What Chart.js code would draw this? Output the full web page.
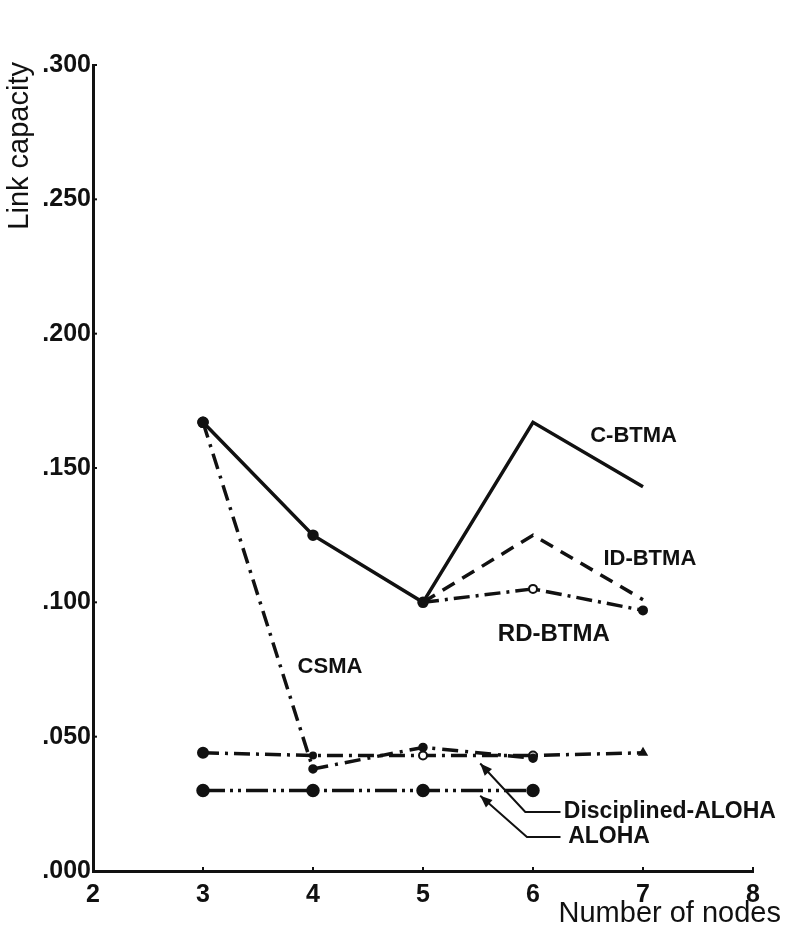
<!DOCTYPE html>
<html>
<head>
<meta charset="utf-8">
<script src="https://cdn.jsdelivr.net/npm/chart.js@4.4.1/dist/chart.umd.min.js"></script>
<style>
  html, body { margin: 0; padding: 0; background: #ffffff; }
  #wrap { width: 785px; height: 936px; position: relative; }
</style>
</head>
<body>
<div id="wrap"><canvas id="c" width="785" height="936"></canvas></div>
<script>
// ---- data ----
const nodeCounts = [3, 4, 5, 6, 7];
const cBtma = [0.167, 0.125, 0.100, 0.167, 0.143];
const idBtma = [null, null, 0.100, 0.125, 0.101];
const rdBtma = [null, null, 0.100, 0.105, 0.097];
const csma = [0.167, 0.038, 0.046, 0.042, null];
const disciplinedAloha = [0.044, 0.043, 0.043, 0.043, 0.044];
const aloha = [0.030, 0.030, 0.030, 0.030, null];
const yTicks = [0, 0.05, 0.10, 0.15, 0.20, 0.25, 0.30];
const xTicks = [2, 3, 4, 5, 6, 7, 8];
const yTickLabels = ['.000', '.050', '.100', '.150', '.200', '.250', '.300'];
const xTickLabels = ['2', '3', '4', '5', '6', '7', '8'];
const seriesNames = ['C-BTMA', 'ID-BTMA', 'RD-BTMA', 'CSMA', 'Disciplined-ALOHA', 'ALOHA'];
const xTitle = 'Number of nodes';
const yTitle = 'Link capacity';

const pts = arr => nodeCounts.map((x, i) => ({ x: x, y: arr[i] }));
const INK = '#111111';
const FONT = '"Liberation Sans", Arial, Helvetica, sans-serif';

const annotate = {
  id: 'annotate',
  afterDraw(chart) {
    const ctx = chart.ctx;
    const xs = chart.scales.x, ys = chart.scales.y;
    const X = v => xs.getPixelForValue(v), Y = v => ys.getPixelForValue(v);
    const ca = chart.chartArea;
    ctx.save();
    ctx.fillStyle = INK;
    ctx.strokeStyle = INK;
    // small inward tick marks
    ctx.lineWidth = 2;
    xTicks.forEach(v => { ctx.beginPath(); ctx.moveTo(X(v), ca.bottom); ctx.lineTo(X(v), ca.bottom - 4); ctx.stroke(); });
    yTicks.forEach(v => { ctx.beginPath(); ctx.moveTo(ca.left, Y(v)); ctx.lineTo(ca.left + 4, Y(v)); ctx.stroke(); });

    // axis titles
    ctx.font = '29px ' + FONT;
    ctx.textBaseline = 'middle';
    ctx.textAlign = 'right';
    ctx.fillText(xTitle, 781, 914);
    ctx.save();
    ctx.translate(20, 62);
    ctx.rotate(-Math.PI / 2);
    ctx.textAlign = 'right';
    ctx.fillText(yTitle, 0, 0);
    ctx.restore();

    // series labels
    ctx.textAlign = 'left';
    ctx.font = 'bold 22px ' + FONT;
    ctx.fillText(seriesNames[0], X(6.52), Y(0.162));
    ctx.fillText(seriesNames[1], X(6.64), Y(0.116));
    ctx.font = 'bold 24px ' + FONT;
    ctx.fillText(seriesNames[2], X(5.68), Y(0.088));
    ctx.font = 'bold 22px ' + FONT;
    ctx.fillText(seriesNames[3], X(3.86), Y(0.076));
    ctx.font = 'bold 23px ' + FONT;
    ctx.fillText(seriesNames[4], X(6.28), Y(0.022));
    ctx.fillText(seriesNames[5], X(6.32), Y(0.0127));

    // leader lines with arrow tips
    ctx.lineWidth = 2;
    const leader = (tipX, tipY, kx, ky, endX) => {
      ctx.beginPath();
      ctx.moveTo(X(tipX), Y(tipY));
      ctx.lineTo(X(kx), Y(ky));
      ctx.lineTo(X(endX), Y(ky));
      ctx.stroke();
      const ang = Math.atan2(Y(ky) - Y(tipY), X(kx) - X(tipX));
      const tx = X(tipX), ty = Y(tipY);
      ctx.beginPath();
      ctx.moveTo(tx, ty);
      ctx.lineTo(tx + 12 * Math.cos(ang) - 5 * Math.sin(ang), ty + 12 * Math.sin(ang) + 5 * Math.cos(ang));
      ctx.lineTo(tx + 12 * Math.cos(ang) + 5 * Math.sin(ang), ty + 12 * Math.sin(ang) - 5 * Math.cos(ang));
      ctx.closePath();
      ctx.fill();
    };
    leader(5.52, 0.040, 5.93, 0.022, 6.25);
    leader(5.52, 0.028, 5.945, 0.0127, 6.25);
    ctx.restore();
  }
};

const ds = (label, data, extra) => Object.assign({
  label: label,
  data: pts(data),
  borderColor: INK,
  backgroundColor: INK,
  borderWidth: 3.5,
  pointRadius: 3,
  pointHoverRadius: 3,
  fill: false,
  tension: 0,
  spanGaps: false
}, extra);

new Chart(document.getElementById('c'), {
  type: 'line',
  data: {
    datasets: [
      ds(seriesNames[0], cBtma, { pointRadius: [4, 4, 4, 0, 0] }),
      ds(seriesNames[1], idBtma, { borderDash: [14, 9], pointRadius: 0 }),
      ds(seriesNames[2], rdBtma, { borderDash: [16, 6, 3, 6], pointRadius: [0, 0, 0, 4, 4], pointBackgroundColor: ['#fff', '#fff', '#fff', '#fff', INK], pointBorderWidth: 2 }),
      ds(seriesNames[3], csma, { borderDash: [16, 7, 3, 7], pointRadius: [4, 3, 3, 3, 0], pointStyle: 'circle' }),
      ds(seriesNames[4], disciplinedAloha, { borderDash: [16, 6, 3, 6], pointRadius: [5, 3, 4, 4, 4], pointStyle: ['circle', 'circle', 'circle', 'circle', 'triangle'], pointBackgroundColor: [INK, INK, '#fff', '#fff', INK], pointBorderWidth: 2 }),
      ds(seriesNames[5], aloha, { borderDash: [22, 5, 3, 5, 3, 5], pointRadius: 5 })
    ]
  },
  options: {
    responsive: false,
    animation: false,
    events: [],
    layout: { padding: { top: 65, right: 32, left: 0, bottom: 0 } },
    plugins: { legend: { display: false }, tooltip: { enabled: false } },
    scales: {
      x: {
        type: 'linear',
        min: 2, max: 8,
        afterFit: s => { s.height = 65; },
        afterBuildTicks: s => { s.ticks = xTicks.map(v => ({ value: v })); },
        grid: { display: false, drawTicks: false },
        border: { display: true, color: INK, width: 3 },
        ticks: {
          color: INK, padding: 9,
          font: { family: FONT, size: 25, weight: 'bold' },
          callback: (v) => xTickLabels[xTicks.indexOf(v)] ?? ''
        }
      },
      y: {
        type: 'linear',
        min: 0, max: 0.3,
        afterFit: s => { s.width = 93; },
        afterBuildTicks: s => { s.ticks = yTicks.map(v => ({ value: v })); },
        grid: { display: false, drawTicks: false },
        border: { display: true, color: INK, width: 3 },
        ticks: {
          color: INK, padding: 2,
          font: { family: FONT, size: 25, weight: 'bold' },
          callback: (v) => {
            const i = yTicks.findIndex(t => Math.abs(t - v) < 1e-9);
            return i >= 0 ? yTickLabels[i] : '';
          }
        }
      }
    }
  },
  plugins: [annotate]
});
</script>
</body>
</html>
